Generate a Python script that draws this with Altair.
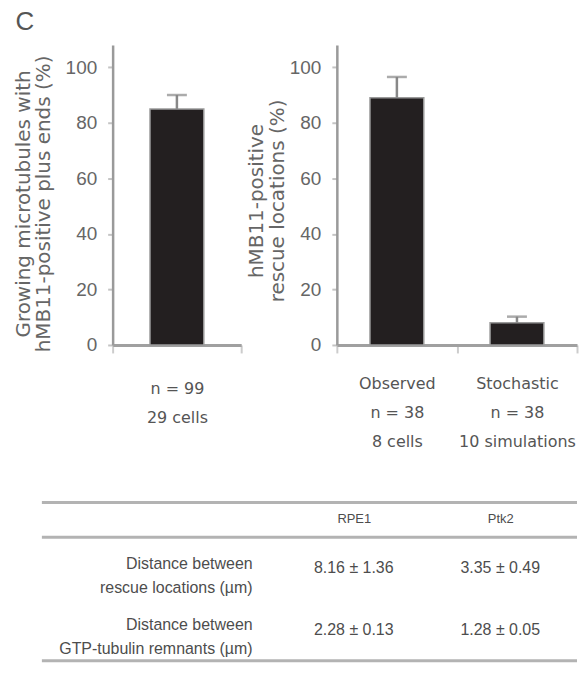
import altair as alt
import pandas as pd

# ---------------- data ----------------
panel_letter = "C"

p1_categories = ["n = 99\n29 cells"]
p1_values = [85]
p1_errors = [5]
p1_title = ["Growing microtubules with", "hMB11-positive plus ends (%)"]

p2_categories = ["Observed\nn = 38\n8 cells", "Stochastic\nn = 38\n10 simulations"]
p2_values = [89, 8]
p2_errors = [7.5, 2.2]
p2_title = ["hMB11-positive", "rescue locations (%)"]

y_ticks = [0, 20, 40, 60, 80, 100]

table_cols = ["RPE1", "Ptk2"]
table_rows = ["Distance between\nrescue locations (µm)",
              "Distance between\nGTP-tubulin remnants (µm)"]
rpe1_values = ["8.16 ± 1.36", "2.28 ± 0.13"]
ptk2_values = ["3.35 ± 0.49", "1.28 ± 0.05"]

# ---------------- styles ----------------
DARK = "#231f20"
AX = "#9a9a9a"
TXT = "#666666"
LAB = "#555555"
SANS = "DejaVu Sans"
ARIAL = "Liberation Sans"

df1 = pd.DataFrame({"cat": p1_categories, "value": p1_values, "err": p1_errors})
df1["upper"] = df1["value"] + df1["err"]
df2 = pd.DataFrame({"cat": p2_categories, "value": p2_values, "err": p2_errors})
df2["upper"] = df2["value"] + df2["err"]

yscale = alt.Scale(domain=[0, 108], nice=False, zero=True)
PLOT_H = 301


def bar_panel(df, cats, width, title, title_x, title_y, title_lh, lab_pad, ext_x, extra=None):
    yaxis = alt.Axis(values=y_ticks, title=title, titleX=title_x, titleY=title_y,
                     titleBaseline="middle", titleAlign="center",
                     titleFont=SANS, titleFontSize=20, titleFontWeight="normal",
                     titleColor=TXT, titleLineHeight=title_lh,
                     labelFont=ARIAL, labelFontSize=19, labelColor=TXT, labelPadding=11,
                     tickSize=5, tickColor="#c4c4c4", tickWidth=2,
                     domainColor=AX, domainWidth=2.5, grid=False)
    xaxis = alt.Axis(title=None, labelExpr="split(datum.label, '\\n')", labelAngle=0,
                     labelFont=SANS, labelFontSize=16, labelColor=LAB,
                     labelLineHeight=29, labelPadding=lab_pad, labelOverlap=False,
                     labelLimit=0, tickBand="extent", tickSize=8,
                     tickColor="#cccccc", tickWidth=2,
                     domainColor="#a0a0a0", domainWidth=3)
    xenc = alt.X("cat:N", sort=cats,
                 scale=alt.Scale(domain=cats, paddingInner=0, paddingOuter=0),
                 axis=xaxis)
    bars = alt.Chart(df).mark_bar(width=54, color=DARK, stroke="#9a9a9a",
                                  strokeWidth=1.5).encode(
        x=xenc, y=alt.Y("value:Q", scale=yscale, axis=yaxis))
    err = alt.Chart(df).mark_rule(color="#888888", strokeWidth=2.5).encode(
        x=alt.X("cat:N", sort=cats), y="value:Q", y2="upper:Q")
    cap = alt.Chart(df).mark_tick(color="#888888", thickness=2.5, size=20).encode(
        x=alt.X("cat:N", sort=cats), y="upper:Q")
    # invisible layout guide (fixes the panel's outer bounds)
    ext = alt.Chart(df).mark_rule(stroke="#ffffff", strokeOpacity=0).encode(
        x=alt.value(ext_x), y=alt.value(-36), y2=alt.value(416))
    layers = [bars, err, cap, ext] + (extra or [])
    return alt.layer(*layers).properties(width=width, height=PLOT_H)


letter = alt.Chart(df1).mark_text(text=panel_letter, font=ARIAL, fontSize=26,
                                  color="#555555", align="left",
                                  baseline="alphabetic").encode(
    x=alt.value(-97.5), y=alt.value(-15))

left = bar_panel(df1, p1_categories, 129, p1_title, -89.5, 159, 20, 28, -105, [letter])
right = bar_panel(df2, p2_categories, 241, p2_title, -81, 156, 21, 23, -95)

top = alt.hconcat(left, right, spacing=0)

# ---------------- table ----------------
trows, tcols, ttext = [], [], []
for i, r in enumerate(table_rows):
    trows += [r, r]
    tcols += table_cols
    ttext += [rpe1_values[i], ptk2_values[i]]
tdf = pd.DataFrame({"row": trows, "col": tcols, "text": ttext})

TW, TH = 466, 124
TL = -71
cells = alt.Chart(tdf).mark_text(font=ARIAL, fontSize=16, color="#4d4d4d").encode(
    x=alt.X("col:N", sort=table_cols,
            scale=alt.Scale(type="point", domain=table_cols, range=[242, 389], padding=0),
            axis=alt.Axis(orient="top", title=None, ticks=False, tickSize=0,
                          labelPadding=12, labelAngle=0, labelFont=ARIAL,
                          labelFontSize=13, labelColor="#4d4d4d", domain=False)),
    y=alt.Y("row:N", sort=table_rows,
            scale=alt.Scale(type="point", domain=table_rows, padding=0.5),
            axis=alt.Axis(orient="left", title=None, ticks=False, tickSize=0,
                          domain=False, offset=-140, labelPadding=0,
                          labelExpr="split(datum.label, '\\n')", labelLineHeight=24,
                          labelFont=ARIAL, labelFontSize=16, labelColor="#4d4d4d",
                          labelOffset=-5, labelAlign="right", labelLimit=0)),
    text="text:N")

rdf = pd.DataFrame({"row": table_rows[:1]})


def hrule(yv):
    return alt.Chart(rdf).mark_rule(color="#b3b3b3", strokeWidth=3).encode(
        x=alt.value(TL), x2=alt.value(TW), y=alt.value(yv))


t_ext = alt.Chart(rdf).mark_rule(stroke="#ffffff", strokeOpacity=0).encode(
    x=alt.value(TL), y=alt.value(-78), y2=alt.value(0))

table = alt.layer(cells, hrule(-35), hrule(0), hrule(TH), t_ext).properties(width=TW, height=TH)

chart = alt.vconcat(top, table, spacing=0).properties(padding=0).configure_view(stroke=None)

chart.save("out.html", embed_options={"renderer": "svg", "actions": False})
